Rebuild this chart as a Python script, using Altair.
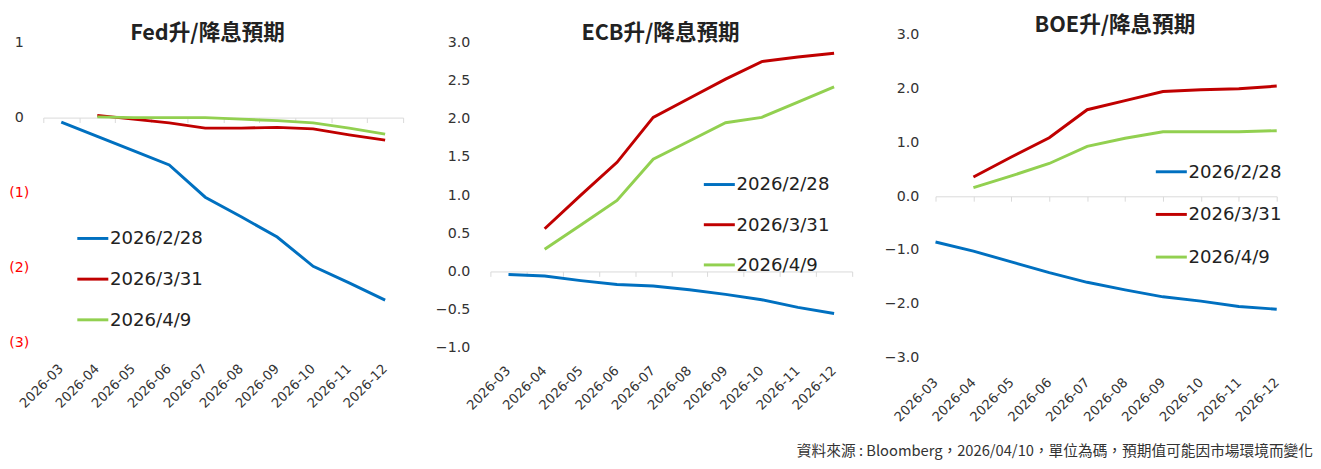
import altair as alt
import pandas as pd

months = ["2026-03", "2026-04", "2026-05", "2026-06", "2026-07",
          "2026-08", "2026-09", "2026-10", "2026-11", "2026-12"]
series = ["2026/2/28", "2026/3/31", "2026/4/9"]
colors = ["#0070C0", "#C00000", "#92D050"]

# Fed
fed_0228 = [-0.06, -0.25, -0.44, -0.63, -1.06, -1.32, -1.59, -1.98, -2.20, -2.43]
fed_0331 = [None, 0.03, -0.02, -0.07, -0.14, -0.14, -0.13, -0.15, -0.23, -0.30]
fed_0409 = [None, 0.01, 0.00, 0.00, 0.00, -0.02, -0.04, -0.07, -0.14, -0.22]
fed_ticks = [1, 0, -1, -2, -3]

# ECB
ecb_0228 = [-0.04, -0.06, -0.12, -0.17, -0.19, -0.24, -0.30, -0.37, -0.47, -0.55]
ecb_0331 = [None, 0.56, 1.00, 1.43, 2.02, 2.27, 2.52, 2.75, 2.81, 2.86]
ecb_0409 = [None, 0.29, 0.61, 0.93, 1.47, 1.71, 1.95, 2.02, 2.22, 2.42]
ecb_ticks = [3.0, 2.5, 2.0, 1.5, 1.0, 0.5, 0.0, -0.5, -1.0]

# BOE
boe_0228 = [-0.85, -1.02, -1.22, -1.42, -1.60, -1.74, -1.87, -1.95, -2.05, -2.10]
boe_0331 = [None, 0.36, 0.73, 1.09, 1.61, 1.78, 1.95, 1.98, 2.00, 2.05]
boe_0409 = [None, 0.16, 0.38, 0.61, 0.93, 1.08, 1.20, 1.20, 1.20, 1.22]
boe_ticks = [3.0, 2.0, 1.0, 0.0, -1.0, -2.0, -3.0]

source_note = "資料來源 : Bloomberg，2026/04/10，單位為碼，預期值可能因市場環境而變化"

FONT = "Noto Sans CJK TC"
NUMFONT = "DejaVu Sans"


def make_panel(title, vals, ydom, yticks, width, height, top, lx, ly, row_pad,
               band=True, fed_style=False, title_dx=0, ylab_pad=17, xlab_pad=16):
    rows = []
    for s, arr in zip(series, vals):
        for m, v in zip(months, arr):
            if v is not None:
                rows.append({"month": m, "value": v, "series": s})
    df = pd.DataFrame(rows)

    if band:
        xscale = alt.Scale(type="band", domain=months, paddingInner=0, paddingOuter=0)
    else:
        xscale = alt.Scale(type="point", domain=months, padding=0)
    yscale = alt.Scale(domain=ydom, range=[height, top], nice=False, zero=False)

    if fed_style:
        yaxis = alt.Axis(values=yticks, domain=False, ticks=False, grid=False,
                         labelFont=NUMFONT, labelFontSize=14.5, labelPadding=ylab_pad,
                         labelAlign="center",
                         labelExpr="datum.value < 0 ? '(' + (-datum.value) + ')' : '' + datum.value",
                         labelColor={"condition": {"test": "datum.value < 0", "value": "#FF0000"},
                                     "value": "#333333"})
    else:
        yaxis = alt.Axis(values=yticks, domain=False, ticks=False, grid=False,
                         labelFont=NUMFONT, labelFontSize=14.5, labelPadding=ylab_pad,
                         format=".1f", labelColor="#333333")

    xkw = {"bandPosition": 0.5} if band else {}
    lines = alt.Chart(df).mark_line(strokeWidth=3).encode(
        x=alt.X("month:O", sort=months, scale=xscale, title=None,
                axis=alt.Axis(orient="bottom", domain=False, ticks=False, labelAngle=-45,
                              labelAlign="right", labelBaseline="middle",
                              labelFont=NUMFONT, labelFontSize=13.5,
                              labelPadding=xlab_pad, labelColor="#333333"), **xkw),
        y=alt.Y("value:Q", scale=yscale, axis=yaxis, title=None),
        color=alt.Color("series:N", scale=alt.Scale(domain=series, range=colors),
                        legend=alt.Legend(title=None, orient="none", legendX=lx, legendY=ly,
                                          symbolType="stroke", symbolSize=1000,
                                          symbolStrokeWidth=3, labelFont=NUMFONT,
                                          labelFontSize=18.5, labelColor="#222222",
                                          rowPadding=row_pad, padding=0, labelOffset=0)),
    )

    # zero line drawn as a second x axis, lifted from the bottom to y = 0
    zero_y = top + (height - top) * ydom[1] / (ydom[1] - ydom[0])
    if band:
        zero_axis = alt.Axis(orient="bottom", offset=-(height - zero_y), labels=False,
                             domainColor="#D9D9D9", tickColor="#D9D9D9", tickSize=5,
                             tickBand="extent", domainWidth=1, tickWidth=1)
    else:
        zero_axis = alt.Axis(orient="bottom", offset=-(height - zero_y), labels=False,
                             domainColor="#D9D9D9", tickColor="#D9D9D9", tickSize=5,
                             domainWidth=1, tickWidth=1)
    zero = alt.Chart(df).mark_point(opacity=0).encode(
        x=alt.X("month:O", sort=months, scale=xscale, title=None, axis=zero_axis),
    )

    return alt.layer(zero, lines).resolve_axis(x="independent").properties(
        width=width, height=height,
        title=alt.TitleParams(title, fontSize=22, fontWeight="bold", color="#222222",
                              anchor="middle", frame="group", dx=title_dx, offset=-10,
                              font=FONT),
    )


fed = make_panel("Fed升/降息預期", [fed_0228, fed_0331, fed_0409], [-3, 1], fed_ticks,
                 367, 314, 7.7, 33, 190, 14.5, band=True, fed_style=True,
                 title_dx=-16, ylab_pad=25, xlab_pad=24)
ecb = make_panel("ECB升/降息預期", [ecb_0228, ecb_0331, ecb_0409], [-1, 3], ecb_ticks,
                 369, 319, 7.7, 216, 135, 14, band=True,
                 title_dx=-11, ylab_pad=21, xlab_pad=21)
boe = make_panel("BOE升/降息預期", [boe_0228, boe_0331, boe_0409], [-3, 3], boe_ticks,
                 348, 329, 0, 223, 122, 16.5, band=False,
                 title_dx=9, ylab_pad=17, xlab_pad=23)

chart = alt.hconcat(fed, ecb, boe, spacing=31).resolve_scale(
    y="independent", color="independent"
).resolve_legend(color="independent").properties(
    title=alt.TitleParams(source_note, orient="bottom", anchor="end", fontSize=15,
                          fontWeight="normal", color="#333333", dx=31, offset=21, font=FONT),
).configure(font=FONT, padding={"left": 0, "top": 2, "right": 0, "bottom": 0}).configure_view(stroke=None)

chart.save("out.html", embed_options={"renderer": "svg", "actions": False})
